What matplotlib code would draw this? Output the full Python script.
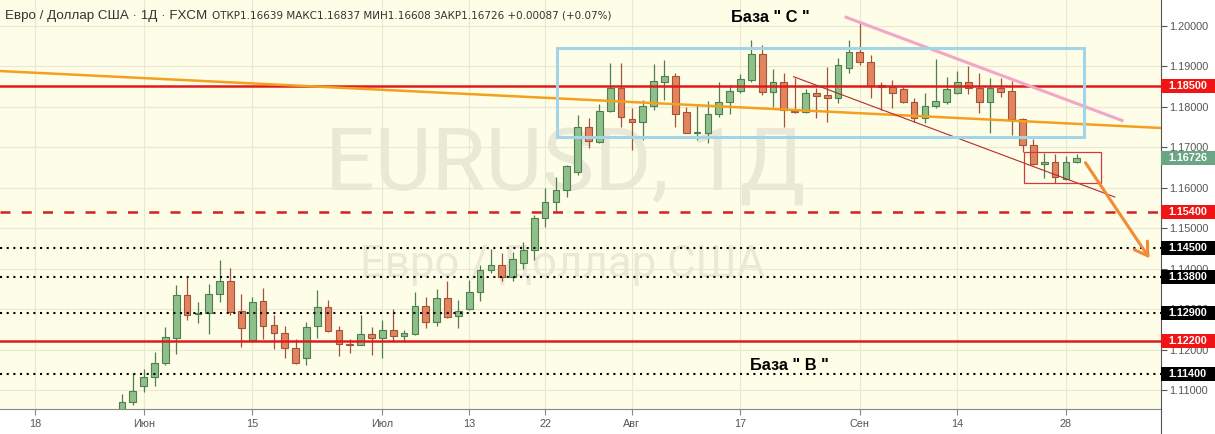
import numpy as np
import matplotlib
matplotlib.use("Agg")
import matplotlib.pyplot as plt
from matplotlib.patches import Rectangle
from matplotlib import transforms

plt.rcParams['font.family'] = ['Liberation Sans', 'DejaVu Sans']

# daily EURUSD candles, first one on 2020-05-28 (business days)
start_date = "2020-05-28"
opens = [1.1010, 1.10711, 1.11106, 1.11314, 1.11659, 1.12291, 1.13338, 1.12880, 1.12894, 1.13370,
         1.13684, 1.12943, 1.12235, 1.13190, 1.12598, 1.12400, 1.12030, 1.11783, 1.12573, 1.13042,
         1.12481, 1.12143, 1.12119, 1.12375, 1.12291, 1.12481, 1.12341, 1.12375, 1.13074, 1.12686,
         1.13264, 1.12827, 1.12993, 1.13412, 1.13956, 1.14079, 1.13798, 1.14128, 1.14457, 1.15240,
         1.15649, 1.15931, 1.16390, 1.17486, 1.17131, 1.17889, 1.18449, 1.17684, 1.17610, 1.18012,
         1.18612, 1.18753, 1.17864, 1.17353, 1.17353, 1.17807, 1.18104, 1.18375, 1.18654, 1.19289,
         1.18351, 1.18598, 1.17889, 1.17872, 1.18341, 1.18284, 1.18202, 1.18958, 1.19338, 1.19091,
         1.18531, 1.18474, 1.18425, 1.18104, 1.17709, 1.18012, 1.18119, 1.18326, 1.18612, 1.18449,
         1.18119, 1.18449, 1.18383, 1.17684, 1.17049, 1.16573, 1.16637, 1.16210, 1.16639]
highs = [1.10901, 1.11420, 1.11519, 1.11938, 1.12556, 1.13593, 1.13815, 1.13165, 1.13617, 1.14210,
         1.14012, 1.13370, 1.13304, 1.13511, 1.12852, 1.12588, 1.12252, 1.12686, 1.13469, 1.13222,
         1.12580, 1.12252, 1.12852, 1.12563, 1.12728, 1.12993, 1.12481, 1.13427, 1.13304, 1.13486,
         1.13691, 1.13222, 1.13716, 1.14086, 1.14481, 1.14375, 1.14400, 1.14662, 1.15321, 1.15980,
         1.16252, 1.16556, 1.17790, 1.17709, 1.18062, 1.19067, 1.19067, 1.17956, 1.18160, 1.19049,
         1.19148, 1.18820, 1.17995, 1.18062, 1.18143, 1.18612, 1.18531, 1.18795, 1.19642, 1.19519,
         1.18919, 1.18835, 1.18696, 1.18425, 1.18449, 1.18983, 1.19190, 1.19642, 1.20090, 1.19272,
         1.18612, 1.18654, 1.18474, 1.18202, 1.18326, 1.19165, 1.18721, 1.18877, 1.19000, 1.18820,
         1.18696, 1.18696, 1.18630, 1.17709, 1.17190, 1.16844, 1.16827, 1.16778, 1.16837]
lows = [1.0990, 1.10630, 1.10958, 1.11099, 1.11617, 1.11896, 1.12728, 1.12647, 1.12383, 1.13165,
        1.12852, 1.12069, 1.12193, 1.12252, 1.12005, 1.11798, 1.11649, 1.11617, 1.12291, 1.12425,
        1.11840, 1.11906, 1.12111, 1.11864, 1.11798, 1.12193, 1.12193, 1.12358, 1.12538, 1.12580,
        1.12770, 1.12523, 1.12975, 1.13198, 1.13881, 1.13691, 1.13699, 1.13980, 1.14210, 1.15032,
        1.15402, 1.15773, 1.16309, 1.16968, 1.17091, 1.17872, 1.17501, 1.16926, 1.17173, 1.17914,
        1.18160, 1.17501, 1.17338, 1.17173, 1.17091, 1.17733, 1.17807, 1.18326, 1.18612, 1.18284,
        1.17995, 1.17501, 1.17832, 1.17847, 1.17709, 1.17625, 1.18094, 1.18820, 1.19025, 1.18202,
        1.17914, 1.17956, 1.18079, 1.17625, 1.17585, 1.17956, 1.18062, 1.18309, 1.18301, 1.17847,
        1.17338, 1.18242, 1.17296, 1.16884, 1.16556, 1.16242, 1.16104, 1.16185, 1.16608]
closes = [1.10711, 1.10975, 1.11321, 1.11659, 1.12301, 1.13338, 1.12852, 1.12905, 1.13370, 1.13684,
          1.12933, 1.12523, 1.13180, 1.12588, 1.12400, 1.12030, 1.11674, 1.12563, 1.13042, 1.12464,
          1.12128, 1.12119, 1.12375, 1.12291, 1.12481, 1.12341, 1.12400, 1.13074, 1.12686, 1.13264,
          1.12810, 1.12951, 1.13412, 1.13956, 1.14079, 1.13798, 1.14227, 1.14457, 1.15240, 1.15649,
          1.15931, 1.16531, 1.17486, 1.17148, 1.17889, 1.18449, 1.17733, 1.17610, 1.18012, 1.18630,
          1.18753, 1.17807, 1.17353, 1.17370, 1.17807, 1.18111, 1.18383, 1.18672, 1.19289, 1.18351,
          1.18598, 1.17914, 1.17857, 1.18341, 1.18267, 1.18202, 1.19025, 1.19338, 1.19091, 1.18506,
          1.18489, 1.18326, 1.18104, 1.17709, 1.18012, 1.18136, 1.18425, 1.18612, 1.18449, 1.18119,
          1.18449, 1.18351, 1.17684, 1.17049, 1.16573, 1.16637, 1.16267, 1.16622, 1.16726]

tick_dates = ["2020-05-18", "2020-06-01", "2020-06-15", "2020-07-01", "2020-07-13", "2020-07-22",
              "2020-08-03", "2020-08-17", "2020-09-01", "2020-09-14", "2020-09-28"]
tick_labels = ["18", "Июн", "15", "Июл", "13", "22", "Авг", "17", "Сен", "14", "28"]
price_ticks = [1.11, 1.12, 1.13, 1.14, 1.15, 1.16, 1.17, 1.18, 1.19, 1.20]

red_levels = [1.185, 1.122]
dashed_level = 1.154
dotted_levels = [1.145, 1.138, 1.129, 1.114]

# hand drawn objects: (candle index, price)
orange_trend = [(0, 1.18728), (88, 1.17572)]
pink_trend = [(66.6, 1.20217), (92.3, 1.17642)]
thin_trend = [(61.9, 1.18736), (91.5, 1.15765)]
base_c_box = [(40.1, 1.17254), (88.7, 1.19437)]
small_box = [(83.1, 1.16104), (90.2, 1.16869)]
arrow_pts = [(88.8, 1.16612), (94.7, 1.14252)]

header_main = "Евро / Доллар США · 1Д · FXCM"
header_ohlc = (f"ОТКР{opens[-1]:.5f} МАКС{highs[-1]:.5f} МИН{lows[-1]:.5f} "
               f"ЗАКР{closes[-1]:.5f} +0.00087 (+0.07%)")

W, H = 1215, 434
fig = plt.figure(figsize=(W / 100, H / 100), dpi=100)
fig.patch.set_facecolor("white")
ax = fig.add_axes([0, 25 / H, 1161 / W, 409 / H])
ax.set_facecolor("#fdfde8")
ax.set_xlim(-11.24, 95.76)
ax.set_ylim(1.10531, 1.20630)

x = np.arange(len(closes))
o = np.array(opens)
c = np.array(closes)
up = c >= o
face = np.where(up, "#8fbf8b", "#e3845e")
edge = np.where(up, "#4f7f4c", "#a0553a")

ax.vlines(x, lows, highs, colors=edge, lw=0.9, zorder=3)
ax.bar(x, c - o, bottom=o, width=0.62, color=face, edgecolor=edge, linewidth=0.8, zorder=4)

# levels
for lv in red_levels:
    ax.axhline(lv, color="#e01b1b", lw=1.8, zorder=6)
ax.axhline(dashed_level, color="#d42020", lw=1.8, ls=(0, (4, 4.5)), zorder=6)
for lv in dotted_levels:
    ax.axhline(lv, color="black", lw=1.5, ls=(0, (1, 2.2)), zorder=6)

# trend lines and boxes
ax.axline(orange_trend[0], orange_trend[1], color="#f3a01e", lw=1.8, zorder=6)
ax.plot(*zip(*pink_trend), color="#f3a6c6", lw=2.2, solid_capstyle="butt", zorder=6)
ax.plot(*zip(*thin_trend), color="#b52a2a", lw=0.8, zorder=6)
(bx0, by0), (bx1, by1) = base_c_box
ax.add_patch(Rectangle((bx0, by0), bx1 - bx0, by1 - by0, fill=False,
                       edgecolor="#a3d5e8", lw=2.2, zorder=6))
(sx0, sy0), (sx1, sy1) = small_box
ax.add_patch(Rectangle((sx0, sy0), sx1 - sx0, sy1 - sy0, fill=False,
                       edgecolor="#d43a3a", lw=0.9, zorder=6))
ax.annotate("", xy=arrow_pts[1], xytext=arrow_pts[0],
            arrowprops=dict(arrowstyle="->,head_length=0.45,head_width=0.28",
                            color="#f28a36", lw=2.2, mutation_scale=20,
                            shrinkA=0, shrinkB=0), zorder=7)

# watermark
ax.text(0.4866, 0.5355, "EURUSD, 1Д", transform=ax.transAxes, ha="center", va="baseline",
        fontsize=63, family="Roboto", color="#e9e9d6", zorder=1)
ax.text(0.485, 0.3235, "Евро / Доллар США", transform=ax.transAxes, ha="center",
        va="baseline", fontsize=31.5, family="Roboto", color="#e9e9d6", zorder=1)

ax.text(0.6637, 0.9462, 'База " С "', transform=ax.transAxes, ha="center", va="baseline",
        fontsize=11.8, fontweight="bold", color="black", zorder=8)
ax.text(0.680, 0.0946, 'База " В "', transform=ax.transAxes, ha="center", va="baseline",
        fontsize=11.8, fontweight="bold", color="black", zorder=8)

# axes styling
ax.grid(True, color="#e9e8d2", lw=0.8)
ax.set_axisbelow(True)
for s in ["left", "top"]:
    ax.spines[s].set_visible(False)
ax.spines["right"].set_color("#555555")
ax.spines["bottom"].set_color("#888888")

ax.yaxis.tick_right()
ax.set_yticks(price_ticks)
ax.set_yticklabels([f"{v:.5f}" for v in price_ticks])
ax.tick_params(axis="y", length=4, width=0.8, color="#555555", labelsize=7.8,
               labelcolor="#555555", pad=2)
tick_x = [np.busday_count(start_date, d) for d in tick_dates]
ax.set_xticks(tick_x)
ax.set_xticklabels(tick_labels)
ax.tick_params(axis="x", length=4, width=0.8, color="#888888", labelsize=7.8,
               labelcolor="#555555", pad=3)

# price labels on the right axis
tr = transforms.blended_transform_factory(ax.transAxes, ax.transData)
box_h = 14 / 4050
right_end = W / 1161


def price_label(val, color):
    ax.add_patch(Rectangle((1.0, val - box_h / 2), right_end - 1.0, box_h, transform=tr,
                           facecolor=color, edgecolor="none", clip_on=False, zorder=9))
    ax.text(1.0228, val, f"{val:.5f}", transform=tr, ha="center", va="center",
            fontsize=7.8, fontweight="bold", color="white", clip_on=False, zorder=10)


for lv in red_levels + [dashed_level]:
    price_label(lv, "#f01414")
for lv in dotted_levels:
    price_label(lv, "black")
price_label(closes[-1], "#6aa584")

# header
fig.text(5 / W, 1 - 19 / H, header_main, fontsize=9.6, color="#333333", va="baseline")
fig.text(212 / W, 1 - 19 / H, header_ohlc, fontsize=7.5, family="DejaVu Sans",
         color="#333333", va="baseline")

# right axis line continues through the date strip
fig.add_artist(plt.Line2D([1161 / W, 1161 / W], [0, 25 / H], color="#555555", lw=0.8))

fig.savefig("out.png", dpi=100)
